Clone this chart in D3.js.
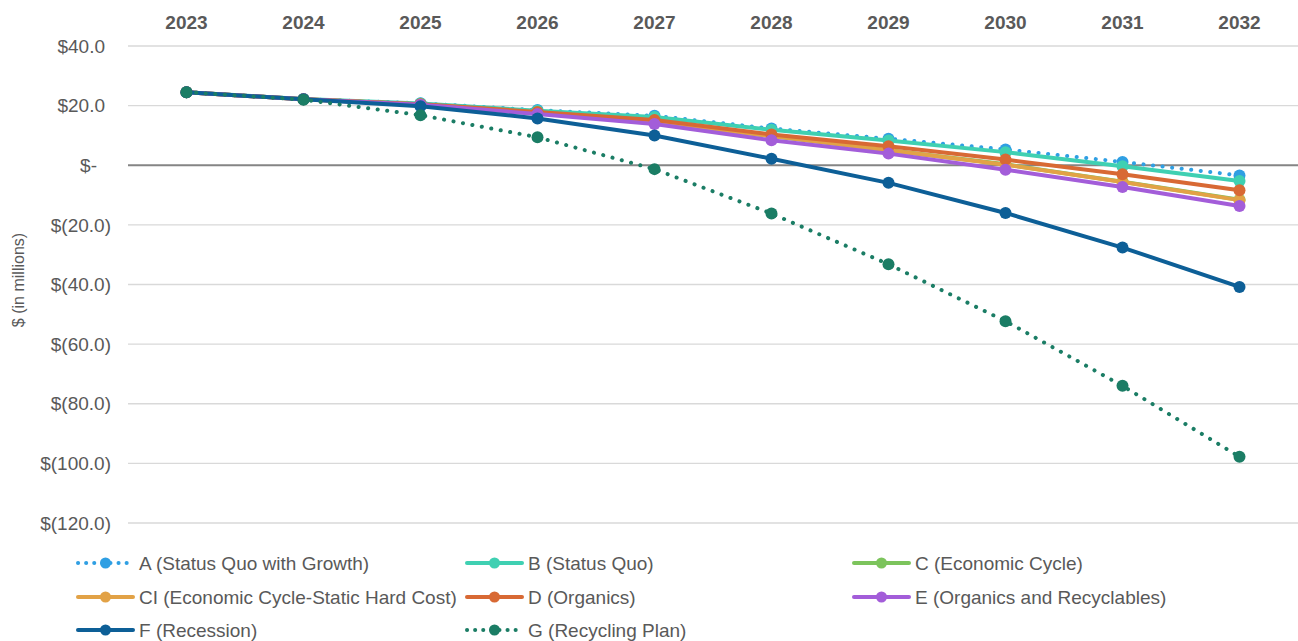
<!DOCTYPE html>
<html>
<head>
<meta charset="utf-8">
<script src="https://cdn.jsdelivr.net/npm/d3@7"></script>
<style>
  body { margin: 0; background: #fff; font-family: "Liberation Sans", Arial, sans-serif; }
  .grid line { stroke: #d9d9d9; stroke-width: 1.3; }
  .y-lab { fill: #595959; font-size: 19px; }
  .x-lab { fill: #595959; font-size: 19px; font-weight: bold; }
  .leg text { fill: #595959; font-size: 19px; }
</style>
</head>
<body>
<svg id="chart" width="1298" height="641"></svg>
<script>
// 0. data
var years = [2023, 2024, 2025, 2026, 2027, 2028, 2029, 2030, 2031, 2032];
var yTicks = [40, 20, 0, -20, -40, -60, -80, -100, -120];

var seriesNames = [
  "A (Status Quo with Growth)", "B (Status Quo)", "C (Economic Cycle)",
  "CI (Economic Cycle-Static Hard Cost)", "D (Organics)", "E (Organics and Recyclables)",
  "F (Recession)", "G (Recycling Plan)"
];
var colors = ["#2f9fe3", "#3fd0b2", "#7cc45c", "#e2a246", "#d86934", "#a35dd9", "#0d5f97", "#1b7d65"];
var dotted = [true, false, false, false, false, false, false, true];

var valsA  = [24.5, 22.2, 20.8, 18.5, 16.6, 12.3, 8.9, 5.3, 1.1, -3.4];
var valsB  = [24.5, 22.2, 20.7, 18.3, 16.2, 11.9, 8.3, 4.4, -0.3, -5.3];
var valsC  = [24.5, 22.1, 20.4, 17.6, 14.6, 9.8, 5.0, 0.3, -5.5, -11.6];
var valsCI = [24.5, 22.1, 20.4, 17.6, 14.6, 9.8, 5.0, 0.2, -5.6, -11.7];
var valsD  = [24.5, 22.1, 20.5, 17.9, 15.2, 10.3, 6.4, 1.9, -3.0, -8.4];
var valsE  = [24.5, 22.1, 20.3, 17.2, 13.8, 8.4, 3.9, -1.5, -7.3, -13.7];
var valsF  = [24.5, 22.1, 19.8, 15.7, 10.0, 2.2, -5.9, -16.0, -27.6, -40.8];
var valsG  = [24.5, 22.0, 16.8, 9.4, -1.3, -16.2, -33.2, -52.3, -74.0, -97.8];
var allVals = [valsA, valsB, valsC, valsCI, valsD, valsE, valsF, valsG];

var svg = d3.select("#chart");
var margin = {left: 128, right: 0, top: 46, bottom: 118};
var width = 1298 - margin.left - margin.right;

var x = d3.scaleBand().domain(years).range([margin.left, margin.left + width]);
var y = d3.scaleLinear().domain([-120, 40]).range([523, 46]);

// accounting style labels: positives and zero leave room for the ")"
function fmt(v) {
  if (v === 0) return "$-";
  if (v < 0) return "$(" + Math.abs(v).toFixed(1) + ")";
  return "$" + v.toFixed(1);
}
function labRight(v) {
  if (v === 0) return 97;
  if (v > 0) return 105;
  return 111;
}

// gridlines
svg.append("g").attr("class", "grid")
  .selectAll("line").data(yTicks).enter().append("line")
  .attr("x1", margin.left).attr("x2", margin.left + width)
  .attr("y1", function(d) { return y(d); }).attr("y2", function(d) { return y(d); })
  .style("stroke", function(d) { return d === 0 ? "#858585" : null; })
  .style("stroke-width", function(d) { return d === 0 ? 2 : null; });

// y labels
svg.append("g").selectAll("text").data(yTicks).enter().append("text")
  .attr("class", "y-lab")
  .attr("x", labRight).attr("y", function(d) { return y(d); })
  .attr("dy", "0.35em").attr("text-anchor", "end")
  .text(fmt);

// x labels on top
svg.append("g").selectAll("text").data(years).enter().append("text")
  .attr("class", "x-lab")
  .attr("x", function(d) { return x(d) + x.bandwidth() / 2; })
  .attr("y", 29).attr("text-anchor", "middle")
  .text(function(d) { return d; });

// axis title
svg.append("text")
  .attr("transform", "translate(24,280) rotate(-90)")
  .attr("text-anchor", "middle")
  .style("fill", "#595959").style("font-size", "16px")
  .text("$ (in millions)");

var line = d3.line()
  .x(function(d, i) { return x(years[i]) + x.bandwidth() / 2; })
  .y(function(d) { return y(d); });

allVals.forEach(function(vals, k) {
  var g = svg.append("g");
  g.append("path").datum(vals)
    .attr("fill", "none")
    .attr("stroke", colors[k])
    .attr("stroke-width", 4)
    .attr("stroke-linecap", "round")
    .attr("stroke-dasharray", dotted[k] ? "0.1,9.5" : null)
    .attr("d", line);
  g.selectAll("circle").data(vals).enter().append("circle")
    .attr("cx", function(d, i) { return x(years[i]) + x.bandwidth() / 2; })
    .attr("cy", function(d) { return y(d); })
    .attr("r", 6)
    .attr("fill", colors[k]);
});

// legend
var legX = [78, 467, 854];
var legY = [563, 597, 630];
seriesNames.forEach(function(name, k) {
  var col = k % 3, row = Math.floor(k / 3);
  if (k === 7) { col = 1; row = 2; }
  var lg = svg.append("g").attr("class", "leg")
    .attr("transform", "translate(" + legX[col] + "," + legY[row] + ")");
  lg.append("line").attr("x1", 0).attr("x2", 55)
    .attr("stroke", colors[k]).attr("stroke-width", 4)
    .attr("stroke-linecap", "round")
    .attr("stroke-dasharray", dotted[k] ? "0.1,8" : null);
  lg.append("circle").attr("cx", 27.5).attr("r", 5.5).attr("fill", colors[k]);
  lg.append("text").attr("x", 61).attr("dy", "0.35em").text(name);
});
</script>
</body>
</html>
